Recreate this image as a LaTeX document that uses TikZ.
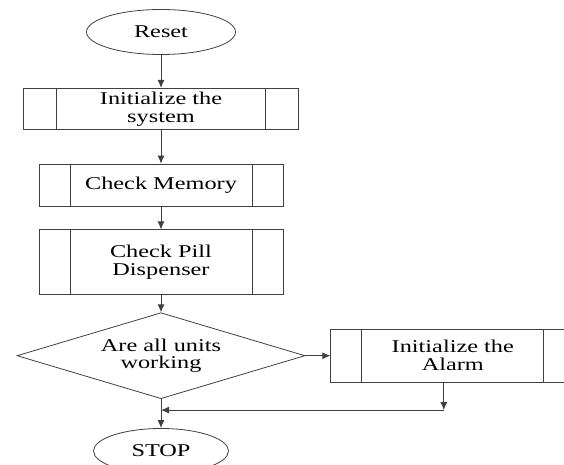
\documentclass[tikz,border=0pt]{standalone}
\usepackage{fontspec}
\setmainfont{Liberation Serif}[FakeStretch=1.35]
\usetikzlibrary{shapes.geometric,arrows.meta,positioning}

\begin{document}
\begin{tikzpicture}[
    x=0.5pt, y=-0.5pt,
    font=\fontsize{9}{9}\selectfont,
    term/.style={draw=black!75, ellipse, minimum width=74.5pt, minimum height=22.5pt, inner sep=0pt},
    sub/.style={draw=black!75, rectangle, minimum width=122pt, align=center, inner sep=1pt,
        path picture={\draw[black!75] ([xshift=#1]path picture bounding box.north west) -- ([xshift=#1]path picture bounding box.south west)
            ([xshift=-#1]path picture bounding box.north east) -- ([xshift=-#1]path picture bounding box.south east);}},
    sub/.default=15.5pt,
    decbox/.style={draw=black!75, diamond, aspect=3.35, minimum width=144pt, minimum height=43pt, inner sep=0pt, align=center},
    arrow/.style={-{Latex[length=4pt,width=3.5pt]}, draw=black!75, line width=0.5pt}
]
\useasboundingbox (0,0) rectangle (564,465);
\node[term] (reset) at (161,32) {Reset};
\node[sub=16.5pt, minimum width=137.5pt, minimum height=20.5pt, below=16.5pt of reset] (init) {Initialize the\\system};
\node[sub, minimum height=21pt, below=17pt of init] (mem) {Check Memory};
\node[sub, minimum height=32.5pt, below=11.5pt of mem] (pill) {Check Pill\\Dispenser};
\node[decbox, below=8.5pt of pill] (dec) {Are all units\\working};
\node[sub, minimum height=26.5pt, right=12.5pt of dec] (alarm) {Initialize the\\Alarm};
\node[term, minimum width=67.5pt, below=14.5pt of dec] (stop) {STOP};

% return path from the alarm
\coordinate[below=5.5pt of dec] (join);
\coordinate[xshift=-4.5pt] (drop) at (alarm.south);
\coordinate (turn) at (drop |- join);

\draw[arrow] (reset) -- (init);
\draw[arrow] (init) -- (mem);
\draw[arrow] (mem) -- (pill);
\draw[arrow] (pill) -- (dec);
\draw[arrow] (dec.east) -- (alarm.west);
\draw[arrow] (drop) -- (turn);
\draw[arrow] (turn) -- (join);
\draw[arrow] (dec) -- (stop);
\end{tikzpicture}
\end{document}
